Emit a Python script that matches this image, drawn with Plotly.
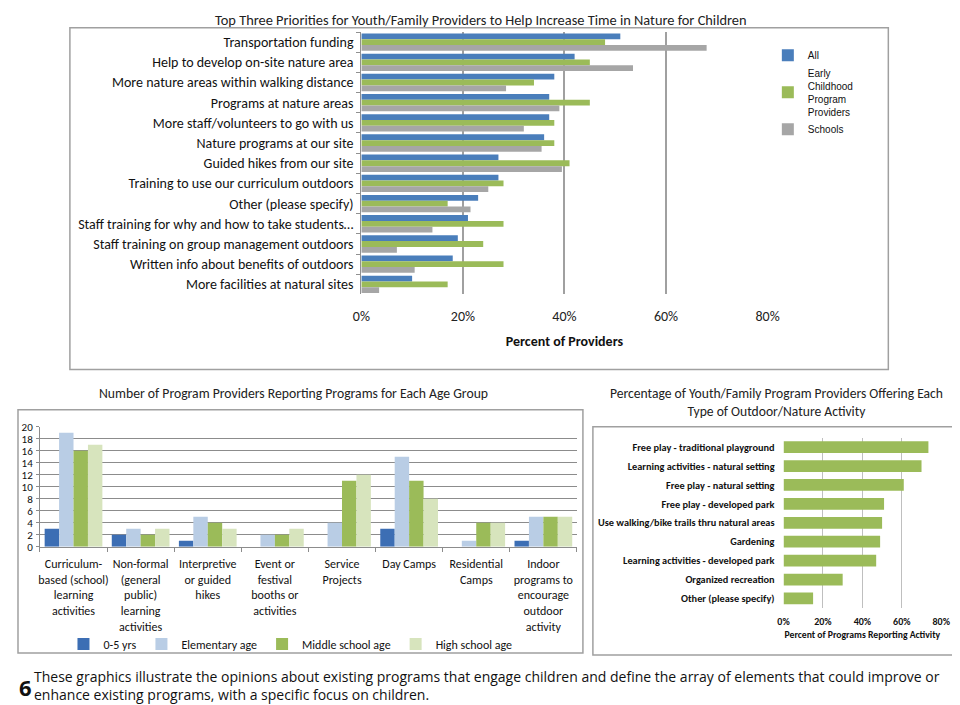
import plotly.graph_objects as go

W, H = 960, 705

# The page photo places the figure slightly inset and scaled; positions
# below are measured on the reference and mapped back to figure pixels.
DX, DY, ESC = 16.0, 15.0, 0.98


def px(x):
    """Reference pixel x -> paper fraction."""
    return min(max((x - DX) / ESC, 0.0), W) / W


def py(y):
    """Reference pixel y (from top) -> paper fraction."""
    return 1 - min(max((y - DY) / ESC, 0.0), H) / H


# --- Top chart: top three priorities -------------------------------------
prioridades = [
    "Transportation funding",
    "Help to develop on-site nature area",
    "More nature areas within walking distance",
    "Programs at nature areas",
    "More staff/volunteers to go with us",
    "Nature programs at our site",
    "Guided hikes from our site",
    "Training to use our curriculum outdoors",
    "Other (please specify)",
    "Staff training for why and how to take students…",
    "Staff training on group management outdoors",
    "Written info about benefits of outdoors",
    "More facilities at natural sites",
]
pct_all = [51, 42, 38, 37, 37, 36, 27, 27, 23, 21, 19, 18, 10]
pct_early = [48, 45, 34, 45, 38, 38, 41, 28, 17, 28, 24, 28, 17]
pct_schools = [68, 53.5, 28.5, 39, 32, 35.5, 39.5, 25, 21.5, 14, 7, 10.5, 3.5]
pct_ticks = [0, 20, 40, 60, 80]
pct_labels = ["0%", "20%", "40%", "60%", "80%"]

# --- Bottom-left chart: providers by age group ---------------------------
tipos_programa = [
    "Curriculum-<br>based (school)<br>learning<br>activities",
    "Non-formal<br>(general<br>public)<br>learning<br>activities",
    "Interpretive<br>or guided<br>hikes",
    "Event or<br>festival<br>booths or<br>activities",
    "Service<br>Projects",
    "Day Camps",
    "Residential<br>Camps",
    "Indoor<br>programs to<br>encourage<br>outdoor<br>activity",
]
edad_0_5 = [3, 2, 1, 0, 0, 3, 0, 1]
edad_elemental = [19, 3, 5, 2, 4, 15, 1, 5]
edad_media = [16, 2, 4, 2, 11, 11, 4, 5]
edad_secundaria = [17, 3, 3, 3, 12, 8, 4, 5]

# --- Bottom-right chart: activity types ----------------------------------
actividades = [
    "Free play - traditional playground",
    "Learning activities - natural setting",
    "Free play - natural setting",
    "Free play - developed park",
    "Use walking/bike trails thru natural areas",
    "Gardening",
    "Learning activities - developed park",
    "Organized recreation",
    "Other (please specify)",
]
pct_actividad = [73.5, 70, 61, 51, 50, 49, 47, 30, 15]

# Paleta
AZUL = "#4A7EBB"
VERDE = "#9BBB59"
GRIS = "#A6A6A6"
AZUL_OSC = "#3C6EB4"
AZUL_CLARO = "#B9CDE5"
VERDE_CLARO = "#D7E4BD"

CAL = "Carlito, Calibri, Lato, sans-serif"
ARIAL = "Liberation Sans, Arial, sans-serif"
TEXTO = "Open Sans, sans-serif"

fig = go.Figure()

# top chart traces
for nombre, valores, color in [
    ("All", pct_all, AZUL),
    ("Early<br>Childhood<br>Program<br>Providers", pct_early, VERDE),
    ("Schools", pct_schools, GRIS),
]:
    fig.add_trace(go.Bar(
        x=valores, y=prioridades, orientation="h", name=nombre,
        marker=dict(color=color, line=dict(width=0)),
        xaxis="x", yaxis="y", legend="legend",
    ))

# bottom-left traces
for nombre, valores, color in [
    ("0-5 yrs", edad_0_5, AZUL_OSC),
    ("Elementary age", edad_elemental, AZUL_CLARO),
    ("Middle school age", edad_media, VERDE),
    ("High school age", edad_secundaria, VERDE_CLARO),
]:
    fig.add_trace(go.Bar(
        x=tipos_programa, y=valores, name=nombre,
        marker=dict(color=color, line=dict(width=0)),
        xaxis="x2", yaxis="y2", legend="legend2",
    ))

# bottom-right trace
fig.add_trace(go.Bar(
    x=pct_actividad, y=actividades, orientation="h", width=0.62,
    marker=dict(color=VERDE, line=dict(width=0)),
    showlegend=False, xaxis="x3", yaxis="y3",
))

# frames around each chart (reference pixels: left, top, right, bottom)
cajas = [(69, 28.7, 889, 370), (17, 410, 583, 653), (593, 427, 955, 655)]
shapes = [
    dict(type="rect", xref="paper", yref="paper",
         x0=px(a), x1=px(c), y0=py(d), y1=py(b),
         line=dict(color="#A0A0A0", width=1.5), fillcolor="rgba(0,0,0,0)",
         layer="below")
    for a, b, c, d in cajas
]

annotations = [
    dict(text="Top Three Priorities for Youth/Family Providers to Help Increase Time in Nature for Children",
         x=px(481), y=py(20.5), font=dict(family=CAL, size=14.4, color="#222")),
    dict(text="Number of Program Providers Reporting Programs for Each Age Group",
         x=px(293), y=py(394), font=dict(family=CAL, size=13.7, color="#222")),
    dict(text="Percentage of Youth/Family Program Providers Offering Each<br>Type of Outdoor/Nature Activity",
         x=px(777), y=py(403), font=dict(family=CAL, size=13.6, color="#222")),
    dict(text="<b>6</b>", x=px(16), y=py(687), xanchor="left",
         font=dict(family=TEXTO, size=22, color="#111")),
    dict(text="These graphics illustrate the opinions about existing programs that engage children and define the array of elements that could improve or<br>"
              "enhance existing programs, with a specific focus on children.",
         x=px(31), y=py(685), xanchor="left", align="left",
         font=dict(family=TEXTO, size=14, color="#111")),
]
for a in annotations:
    a.update(xref="paper", yref="paper", showarrow=False)
    a.setdefault("xanchor", "center")
    a.setdefault("yanchor", "middle")

fig.update_layout(
    width=W, height=H,
    margin=dict(l=0, r=0, t=0, b=0),
    paper_bgcolor="white", plot_bgcolor="white",
    barmode="group", bargap=0.14, bargroupgap=0.0,
    shapes=shapes, annotations=annotations,
    font=dict(family=CAL, color="#222"),
    xaxis=dict(
        domain=[px(361), px(768)], range=[0, 80],
        tickvals=pct_ticks, ticktext=pct_labels,
        showgrid=True, gridcolor="#A0A0A0", gridwidth=1.5,
        zeroline=False, showline=False,
        ticks="outside", ticklen=9, tickcolor="rgba(0,0,0,0)",
        tickfont=dict(family=CAL, size=14, color="#222"),
        title=dict(text="<b>Percent of Providers</b>", standoff=11,
                   font=dict(family=CAL, size=14, color="#111")),
        fixedrange=True, anchor="y",
    ),
    yaxis=dict(
        domain=[py(295), py(33)], autorange="reversed",
        showline=True, linecolor="#909090", linewidth=1,
        ticks="outside", ticklen=4, tickcolor="#909090", tickson="boundaries",
        ticklabelstandoff=4,
        tickfont=dict(family=CAL, size=14, color="#111"),
        showgrid=False, anchor="x",
    ),
    xaxis2=dict(
        domain=[px(39), px(577)], anchor="y2",
        showline=True, linecolor="#8C8C8C", linewidth=1,
        ticks="outside", ticklen=4, tickcolor="#8C8C8C", tickson="boundaries",
        ticklabelstandoff=6, tickangle=0,
        tickfont=dict(family=CAL, size=12, color="#111"),
        showgrid=False,
    ),
    yaxis2=dict(
        domain=[py(547), py(427)], anchor="x2", range=[0, 20], dtick=2,
        showline=True, linecolor="#8C8C8C", linewidth=1,
        ticks="outside", ticklen=3, tickcolor="#8C8C8C", ticklabelstandoff=1,
        showgrid=True, gridcolor="#8C8C8C", gridwidth=1.3, zeroline=False,
        tickfont=dict(family=CAL, size=11, color="#111"),
    ),
    xaxis3=dict(
        domain=[px(784), px(942)], anchor="y3", range=[0, 80],
        tickvals=pct_ticks, ticktext=["<b>%s</b>" % t for t in pct_labels],
        showgrid=True, gridcolor="#BFBFBF", gridwidth=1, zeroline=False,
        showline=False, ticks="outside", ticklen=4, tickcolor="rgba(0,0,0,0)",
        tickfont=dict(family=CAL, size=10, color="#111"),
        title=dict(text="<b>Percent of Programs Reporting Activity</b>", standoff=4,
                   font=dict(family=CAL, size=9.7, color="#111")),
    ),
    yaxis3=dict(
        domain=[py(608), py(438)], anchor="x3", autorange="reversed",
        showline=False, ticks="", ticklabelstandoff=8,
        tickfont=dict(family=CAL, size=10.3, color="#111"),
        tickprefix="<b>", ticksuffix="</b>",
    ),
    legend=dict(
        x=px(782) - 14 / W, y=py(56.5) + 15 / H, xanchor="left", yanchor="top",
        font=dict(family=ARIAL, size=10, color="#111"),
        bgcolor="rgba(0,0,0,0)", tracegroupgap=0, itemwidth=30,
    ),
    legend2=dict(
        orientation="h", x=px(290), y=py(644), xanchor="center", yanchor="middle",
        font=dict(family=CAL, size=12, color="#111"),
        bgcolor="rgba(0,0,0,0)", itemwidth=30,
    ),
)

fig.write_html("out.html")
